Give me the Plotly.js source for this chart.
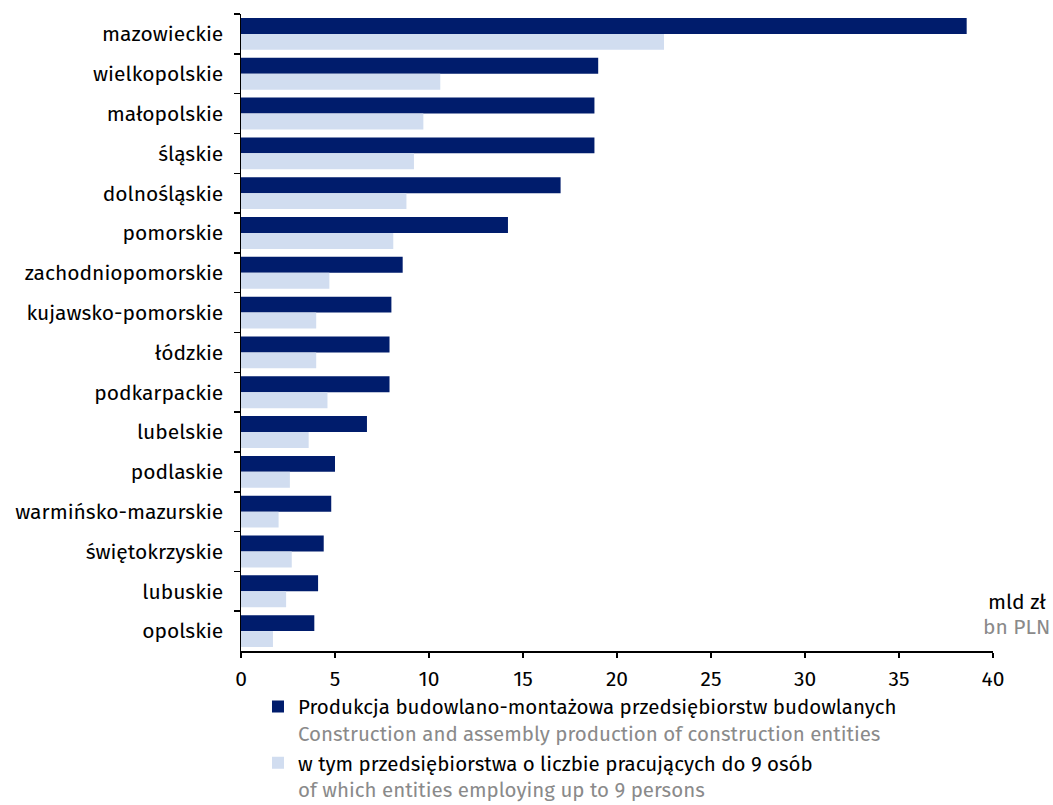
<!DOCTYPE html>
<html>
<head>
<meta charset="utf-8">
<script src="https://cdn.plot.ly/plotly-3.0.1.min.js"></script>
<style>html,body{margin:0;padding:0;background:#fff}#chart{width:1053px;height:805px}</style>
</head>
<body>
<div id="chart"></div>
<script>
const regions = ["mazowieckie","wielkopolskie","małopolskie","śląskie","dolnośląskie","pomorskie","zachodniopomorskie","kujawsko-pomorskie","łódzkie","podkarpackie","lubelskie","podlaskie","warmińsko-mazurskie","świętokrzyskie","lubuskie","opolskie"];
const totalProduction = [38.6,19.0,18.8,18.8,17.0,14.2,8.6,8.0,7.9,7.9,6.7,5.0,4.8,4.4,4.1,3.9];
const smallEntities = [22.5,10.6,9.7,9.2,8.8,8.1,4.7,4.0,4.0,4.6,3.6,2.6,2.0,2.7,2.4,1.7];
const xTicks = [0,5,10,15,20,25,30,35,40];
const seriesNames = [
  "Produkcja budowlano-montażowa przedsiębiorstw budowlanych<br><span style='color:#8a8a8a'>Construction and assembly production of construction entities</span>",
  "w tym przedsiębiorstwa o liczbie pracujących do 9 osób<br><span style='color:#8a8a8a'>of which entities employing up to 9 persons</span>"
];
const unitPL = "mld zł";
const unitEN = "bn PLN";

const FONT = "Fira Sans, Noto Sans, sans-serif";
const FS = 21;
const traces = [
  {type:'bar', orientation:'h', y:regions, x:totalProduction, name:seriesNames[0],
   marker:{color:'#001c6c'}, hoverinfo:'x+y'},
  {type:'bar', orientation:'h', y:regions, x:smallEntities, name:seriesNames[1],
   marker:{color:'#d1ddf0'}, hoverinfo:'x+y'}
];
const layout = {
  width:1053, height:805,
  margin:{l:241, r:60, t:14, b:154, autoexpand:false},
  paper_bgcolor:'#fff', plot_bgcolor:'#fff',
  font:{family:FONT, size:FS, color:'#000'},
  barmode:'group', bargap:0.2, bargroupgap:0,
  showlegend:true,
  legend:{x:0.0226, y:-0.056, xanchor:'left', yanchor:'top', orientation:'v',
          valign:'top', traceorder:'normal', tracegroupgap:0,
          font:{family:FONT, size:20.5, color:'#000'}, itemwidth:30},
  xaxis:{range:[0,40], tickvals:xTicks, showgrid:false, zeroline:false,
         showline:true, linecolor:'#000', linewidth:1.5,
         ticks:'outside', ticklen:5, tickcolor:'#000', tickwidth:1.5,
         ticklabelstandoff:3,
         tickfont:{family:FONT, size:FS}},
  yaxis:{autorange:'reversed', type:'category', showgrid:false, zeroline:false,
         showline:true, linecolor:'#000', linewidth:1.5,
         ticks:'outside', ticklen:6, tickcolor:'#000', tickwidth:1.5,
         tickson:'boundaries', ticklabelstandoff:12,
         tickfont:{family:FONT, size:FS}},
  annotations:[
    {xref:'paper', yref:'paper', x:1.073, y:0.077, xanchor:'right', yanchor:'middle',
     text:unitPL, showarrow:false, font:{family:FONT, size:FS, color:'#000'}},
    {xref:'paper', yref:'paper', x:1.078, y:0.038, xanchor:'right', yanchor:'middle',
     text:unitEN, showarrow:false, font:{family:FONT, size:FS, color:'#8a8a8a'}}
  ]
};
Plotly.newPlot('chart', traces, layout, {displayModeBar:false, staticPlot:true});
</script>
</body>
</html>
